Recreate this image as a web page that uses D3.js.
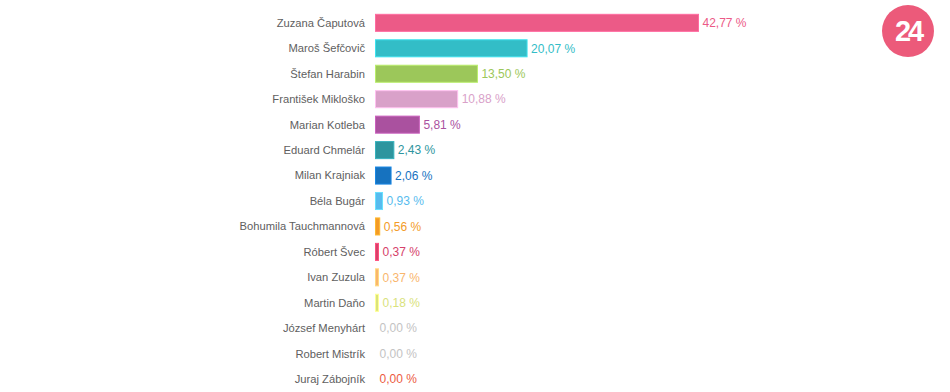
<!DOCTYPE html>
<html><head><meta charset="utf-8">
<script src="https://cdn.jsdelivr.net/npm/d3@7/dist/d3.min.js"></script>
<style>body{margin:0;background:#fff;}svg{display:block;}</style>
</head><body><svg id="c" width="950" height="392"></svg>
<script>
const categories = ["Zuzana Čaputová","Maroš Šefčovič","Štefan Harabin","František Mikloško","Marian Kotleba","Eduard Chmelár","Milan Krajniak","Béla Bugár","Bohumila Tauchmannová","Róbert Švec","Ivan Zuzula","Martin Daňo","József Menyhárt","Robert Mistrík","Juraj Zábojník"];
const values = [42.77,20.07,13.50,10.88,5.81,2.43,2.06,0.93,0.56,0.37,0.37,0.18,0.00,0.00,0.00];
const colors = ["#ec5a87","#33bdc7","#9cc75a","#d9a1c9","#aa519f","#2d959e","#1672bf","#57bcee","#f39b27","#d6426a","#f9b66d","#d9e27d","#c3c3c3","#c3c3c3","#ec5b41"];
const valueLabels = values.map(v => v.toFixed(2).replace(".", ",") + " %");

const FONT = "'Liberation Sans', Arial, sans-serif";
const svg = d3.select("#c");
const x = d3.scaleLinear().domain([0, 42.77]).range([375.5, 698.5]);
const y = d3.scaleBand().domain(categories).range([10, 392]).paddingInner(0.33).paddingOuter(0.17);

const g = svg.append("g");
const rows = g.selectAll("g.row").data(categories).enter().append("g").attr("class","row");

rows.append("text")
  .attr("x", 365).attr("y", d => y(d) + y.bandwidth()/2)
  .attr("dy","0.35em").attr("text-anchor","end")
  .attr("font-family", FONT).attr("font-size", 11.2)
  .attr("fill","#606060").text(d => d);

rows.filter((d,i) => values[i] > 0).append("rect")
  .attr("x", x(0))
  .attr("y", d => y(d))
  .attr("width", (d) => { const i = categories.indexOf(d); return Math.max(3, x(values[i]) - x(0)); })
  .attr("height", y.bandwidth())
  .attr("fill", d => colors[categories.indexOf(d)])
  .attr("stroke", d => d3.color(colors[categories.indexOf(d)]).brighter(0.5))
  .attr("stroke-width", 1);

rows.append("text")
  .attr("x", d => { const i = categories.indexOf(d); return (values[i] > 0 ? Math.max(x(values[i]), x(0)+3) : x(0)) + 4; })
  .attr("y", d => y(d) + y.bandwidth()/2)
  .attr("dy","0.35em")
  .attr("font-family", FONT).attr("font-size", 12)
  .attr("fill", d => colors[categories.indexOf(d)])
  .text(d => valueLabels[categories.indexOf(d)]);

// logo
const logo = svg.append("g").attr("transform","translate(908,31)");
logo.append("circle").attr("r", 26).attr("fill","#ec5a7a");
logo.append("text").attr("text-anchor","middle").attr("dy","0.36em")
  .attr("font-family", FONT).attr("font-weight","bold")
  .attr("font-size", 29).attr("letter-spacing","-3").attr("fill","#fff").text("24");
</script></body></html>
